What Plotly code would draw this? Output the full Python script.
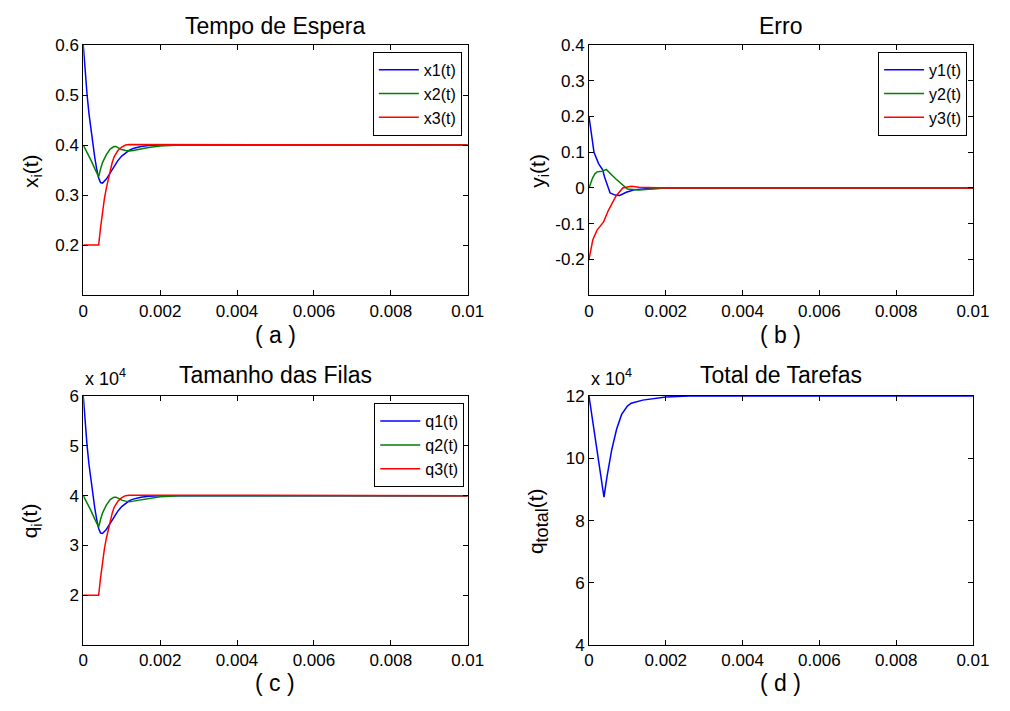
import plotly.graph_objects as go

W, H = 1010, 711

# ---------------- data ----------------
# (a) Tempo de Espera
t_x1 = [0, 0.00005, 0.0001, 0.00015, 0.0002, 0.00025, 0.0003, 0.00035, 0.0004, 0.00045, 0.0005,
        0.0006, 0.0007, 0.0008, 0.0009, 0.001, 0.0011, 0.0012, 0.0013, 0.0014, 0.0015, 0.0017,
        0.002, 0.0025, 0.01]
x1 = [0.600, 0.545, 0.500, 0.462, 0.430, 0.400, 0.375, 0.352, 0.334, 0.325, 0.324,
      0.332, 0.345, 0.358, 0.369, 0.378, 0.385, 0.390, 0.393, 0.395, 0.397, 0.399,
      0.400, 0.400, 0.400]
t_x2 = [0, 0.0001, 0.0002, 0.0003, 0.00035, 0.0004, 0.00045, 0.0005, 0.0006, 0.0007, 0.0008,
        0.00085, 0.0009, 0.001, 0.0011, 0.0012, 0.0013, 0.0015, 0.0017, 0.002, 0.0025, 0.01]
x2 = [0.400, 0.386, 0.370, 0.353, 0.345, 0.337, 0.352, 0.365, 0.381, 0.392, 0.397,
      0.397, 0.395, 0.391, 0.389, 0.388, 0.389, 0.392, 0.395, 0.398, 0.400, 0.400]
t_x3 = [0, 0.0004, 0.00045, 0.0005, 0.00055, 0.0006, 0.00065, 0.0007, 0.00075, 0.0008, 0.0009,
        0.001, 0.0011, 0.0012, 0.0013, 0.0015, 0.002, 0.01]
x3 = [0.200, 0.200, 0.235, 0.268, 0.293, 0.314, 0.333, 0.350, 0.364, 0.376, 0.389,
      0.396, 0.400, 0.401, 0.401, 0.400, 0.400, 0.400]

# (b) Erro
t_y1 = [0, 0.00006, 0.00013, 0.00025, 0.00036, 0.0004, 0.00047, 0.00055, 0.00068, 0.0008,
        0.00097, 0.00118, 0.0015, 0.002, 0.01]
y1 = [0.200, 0.146, 0.100, 0.068, 0.050, 0.032, 0.009, -0.014, -0.020, -0.021,
      -0.012, -0.005, -0.002, 0.000, 0.000]
t_y2 = [0, 0.00005, 0.00009, 0.00015, 0.00021, 0.00035, 0.00045, 0.00068, 0.00089, 0.001,
        0.0013, 0.0016, 0.002, 0.01]
y2 = [0.000, 0.017, 0.027, 0.039, 0.045, 0.047, 0.052, 0.027, 0.007, -0.003,
      -0.006, -0.003, 0.000, 0.000]
t_y3 = [0, 0.00005, 0.0001, 0.00021, 0.00038, 0.0005, 0.0006, 0.0007, 0.00088, 0.0011,
        0.0013, 0.0016, 0.002, 0.01]
y3 = [-0.200, -0.168, -0.145, -0.118, -0.095, -0.064, -0.042, -0.023, 0.000, 0.005,
      0.002, 0.001, 0.000, 0.000]

# (c) Tamanho das Filas
t_q1 = t_x1
q1 = [60000, 54500, 50000, 46200, 43000, 40000, 37500, 35200, 33400, 32500, 32400,
      33200, 34500, 35800, 36900, 37800, 38500, 39000, 39300, 39500, 39700, 39900,
      40000, 40000, 40000]
t_q2 = t_x2
q2 = [40000, 38600, 37000, 35300, 34500, 33700, 35200, 36500, 38100, 39200, 39700,
      39700, 39500, 39100, 38900, 38800, 38900, 39200, 39500, 39800, 40000, 40000]
t_q3 = t_x3
q3 = [20000, 20000, 23500, 26800, 29300, 31400, 33300, 35000, 36400, 37600, 38900,
      39600, 40000, 40100, 40100, 40000, 40000, 40000]

# (d) Total de Tarefas
t_tot = [0, 0.0001, 0.0002, 0.0003, 0.00039, 0.00047, 0.00059, 0.00072, 0.00085, 0.001,
         0.0011, 0.0014, 0.002, 0.0026, 0.01]
q_tot = [120000, 111800, 103500, 95200, 87500, 94200, 102600, 109400, 114100, 116800,
         117700, 118700, 119700, 120000, 120000]

x_ticks = [0, 0.002, 0.004, 0.006, 0.008, 0.01]
x_ticktext = ["0", "0.002", "0.004", "0.006", "0.008", "0.01"]

BLUE, GREEN, RED = "rgb(0,0,255)", "rgb(0,128,0)", "rgb(255,0,0)"
FONT = "Liberation Sans, Arial, sans-serif"

# ---------------- layout geometry ----------------
def px_x(p):
    return p / W

def px_y(p):
    return 1 - p / H

dom_xl = [px_x(80), px_x(473)]
dom_xr = [px_x(597), px_x(989.5)]
dom_yt = [px_y(294), px_y(37)]
dom_yb = [px_y(653.5), px_y(397.7)]

fig = go.Figure()

def add(t, v, color, name, xa, ya, legend, show=True):
    fig.add_trace(go.Scatter(x=t, y=v, mode="lines", name=name,
                             line=dict(color=color, width=1.5),
                             xaxis=xa, yaxis=ya, legend=legend, showlegend=show))

add(t_x1, x1, BLUE, "x1(t)", "x", "y", "legend")
add(t_x2, x2, GREEN, "x2(t)", "x", "y", "legend")
add(t_x3, x3, RED, "x3(t)", "x", "y", "legend")
add(t_y1, y1, BLUE, "y1(t)", "x2", "y2", "legend2")
add(t_y2, y2, GREEN, "y2(t)", "x2", "y2", "legend2")
add(t_y3, y3, RED, "y3(t)", "x2", "y2", "legend2")
add(t_q1, q1, BLUE, "q1(t)", "x3", "y3", "legend3")
add(t_q2, q2, GREEN, "q2(t)", "x3", "y3", "legend3")
add(t_q3, q3, RED, "q3(t)", "x3", "y3", "legend3")
add(t_tot, q_tot, BLUE, "qtotal(t)", "x4", "y4", "legend", show=False)

axis_common = dict(showline=True, linecolor="black", linewidth=1, mirror="ticks",
                   ticks="inside", ticklen=5, tickcolor="black", showgrid=False,
                   zeroline=False, tickfont=dict(family=FONT, size=17, color="black"))

def xaxis(domain, anchor):
    return dict(axis_common, domain=domain, anchor=anchor, range=[0, 0.01],
                tickvals=x_ticks, ticktext=x_ticktext)

def yaxis(domain, anchor, rng, tv, tt):
    return dict(axis_common, domain=domain, anchor=anchor, range=rng,
                tickvals=tv, ticktext=tt)

legend_common = dict(bgcolor="white", bordercolor="black", borderwidth=1,
                     font=dict(family=FONT, size=16, color="black"),
                     xanchor="right", yanchor="top", tracegroupgap=0,
                     itemwidth=40)

fig.update_layout(
    width=W, height=H, margin=dict(l=0, r=0, t=0, b=0),
    paper_bgcolor="white", plot_bgcolor="white",
    font=dict(family=FONT, color="black"),
    xaxis=xaxis(dom_xl, "y"),
    yaxis=yaxis(dom_yt, "x", [0.1, 0.6], [0.2, 0.3, 0.4, 0.5, 0.6],
                ["0.2", "0.3", "0.4", "0.5", "0.6"]),
    xaxis2=xaxis(dom_xr, "y2"),
    yaxis2=yaxis(dom_yt, "x2", [-0.3, 0.4], [-0.2, -0.1, 0, 0.1, 0.2, 0.3, 0.4],
                 ["-0.2", "-0.1", "0", "0.1", "0.2", "0.3", "0.4"]),
    xaxis3=xaxis(dom_xl, "y3"),
    yaxis3=yaxis(dom_yb, "x3", [10000, 60000], [20000, 30000, 40000, 50000, 60000],
                 ["2", "3", "4", "5", "6"]),
    xaxis4=xaxis(dom_xr, "y4"),
    yaxis4=yaxis(dom_yb, "x4", [40000, 120000], [40000, 60000, 80000, 100000, 120000],
                 ["4", "6", "8", "10", "12"]),
    legend=dict(legend_common, x=px_x(467), y=px_y(44)),
    legend2=dict(legend_common, x=px_x(983.5), y=px_y(44)),
    legend3=dict(legend_common, x=px_x(469.5), y=px_y(405)),
)

ann = []
def text(x, y, s, size, angle=0, xanchor="center", yanchor="middle"):
    ann.append(dict(x=px_x(x), y=px_y(y), xref="paper", yref="paper", text=s,
                    showarrow=False, textangle=angle, xanchor=xanchor, yanchor=yanchor,
                    font=dict(family=FONT, size=size, color="black")))

# titles
text(276.5, 17, "Tempo de Espera", 23)
text(793, 17, "Erro", 23)
text(276.5, 376, "Tamanho das Filas", 23)
text(793, 376, "Total de Tarefas", 23)
# x labels
text(276.5, 335, "( a )", 23)
text(793, 335, "( b )", 23)
text(276.5, 693, "( c )", 23)
text(793, 693, "( d )", 23)
# y labels
text(27, 166, "x<sub>i</sub>(t)", 21, angle=-90)
text(545, 166, "y<sub>i</sub>(t)", 21, angle=-90)
text(27, 526, "q<sub>i</sub>(t)", 21, angle=-90)
text(545, 526, "q<sub><span style='font-size:18px'>total</span></sub>(t)", 21, angle=-90)
# exponent labels
text(80, 393, "x 10<sup>4</sup>", 18, xanchor="left", yanchor="bottom")
text(597, 393, "x 10<sup>4</sup>", 18, xanchor="left", yanchor="bottom")

fig.update_layout(annotations=ann)

fig.write_html(
    "out.html",
    post_script="document.body.style.margin='0';document.body.style.padding='0';"
                "document.documentElement.style.overflow='hidden';",
)
